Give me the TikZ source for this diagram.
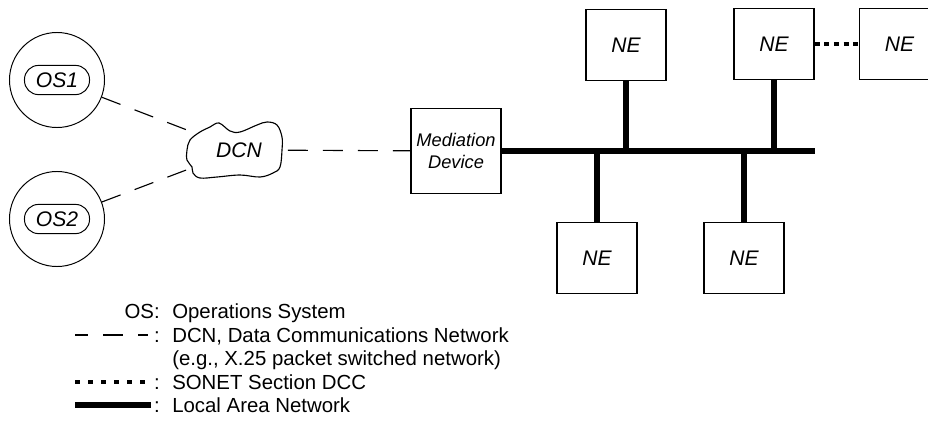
\documentclass[tikz,border=0pt]{standalone}
\usepackage{fontspec}
\setmainfont{Liberation Sans}
\usepackage{tikz}
\usetikzlibrary{positioning,shapes.geometric}

\begin{document}
\begin{tikzpicture}[x=0.025cm, y=-0.025cm, node distance=1.1cm]
  \tikzstyle{lbl}=[font=\fontsize{15}{17}\selectfont\itshape]
  \tikzstyle{oscirc}=[circle, draw, line width=0.7pt, minimum size=2.375cm, inner sep=0pt]
  \tikzstyle{osbox}=[lbl, draw, line width=0.7pt, rounded corners=0.35cm, minimum width=1.625cm, minimum height=0.73cm, inner sep=0pt]
  \tikzstyle{nebox}=[lbl, draw, line width=1.1pt, minimum width=2cm, minimum height=1.775cm, inner sep=0pt]
  \tikzstyle{mdbox}=[draw, line width=1.1pt, minimum width=2.25cm, minimum height=2.125cm, inner sep=0pt, align=center, font=\fontsize{13}{15}\selectfont\itshape]
  \tikzstyle{dcnlink}=[line width=0.8pt, dash pattern=on 0.5cm off 0.375cm]
  \tikzstyle{sonet}=[line width=2.8pt, dash pattern=on 0.125cm off 0.115cm]
  \tikzstyle{lan}=[line width=4.3pt]
  \tikzstyle{legtext}=[font=\fontsize{14.5}{17}\selectfont, inner sep=0pt]

  \useasboundingbox (0,0) rectangle (928,429);
  \clip (0,0) rectangle (928,429);

  % operations systems and the DCN cloud
  \node[oscirc] (os1) at (57,80) {};
  \node[osbox] (os1lbl) at (os1) {OS1};
  \node[oscirc] (os2) at (57,219) {};
  \node[osbox] (os2lbl) at (os2) {OS2};
  \node[lbl, ellipse, minimum width=2.425cm, minimum height=1.4cm, inner sep=0pt] (dcn) at (239,150) {DCN};
  \draw[line width=0.8pt, shift={(dcn.center)}] plot[smooth cycle, tension=0.6] coordinates {
    (-20,-27) (-9,-19) (1,-18) (18,-25) (28,-28) (38,-25) (43,-13) (43,0) (41,17) (34,23)
    (21,27) (1,25) (-22,27) (-39,28) (-46,23) (-47,17) (-52,10) (-52,0) (-49,-10) (-39,-18) (-29,-23)};

  % mediation device and network elements
  \node[mdbox] (md) at (456,151) {Mediation\\Device};
  \node[nebox] (ne1) at (626,45) {NE};
  \node[nebox] (ne2) at (774,44) {NE};
  \node[nebox, right=of ne2] (ne3) {NE};
  \node[nebox] (ne4) at (597,258) {NE};
  \node[nebox] (ne5) at (744,258) {NE};

  \draw[dcnlink] (os1) -- (dcn);
  \draw[dcnlink] (os2) -- (dcn);
  \draw[dcnlink] (dcn) -- (md);
  \coordinate (busend) at (ne2.east |- md.east);
  \draw[lan] (md.east) -- (busend);
  \foreach \n in {ne1,ne2,ne4,ne5}
    \draw[lan] (\n) -- (\n |- md.east);
  \draw[sonet] (ne2) -- (ne3);

  % legend
  \node[legtext, anchor=base east] (key1) at (160,318) {OS:};
  \node[legtext, anchor=base west] (leg1) at (172,318) {Operations System};
  \node[legtext, anchor=base east] (key2) at (160,342) {:};
  \node[legtext, anchor=base west] (leg2) at (172,342) {DCN, Data Communications Network};
  \node[legtext, anchor=base west] (leg2b) at (172,365) {(e.g., X.25 packet switched network)};
  \node[legtext, anchor=base east] (key3) at (160,389) {:};
  \node[legtext, anchor=base west] (leg3) at (172,389) {SONET Section DCC};
  \node[legtext, anchor=base east] (key4) at (160,412) {:};
  \node[legtext, anchor=base west] (leg4) at (172,412) {Local Area Network};

  \coordinate (s2) at (75,335);
  \coordinate (s3) at (75,382);
  \coordinate (s4) at (75,405);
  \draw[dcnlink, dash phase=0.175cm] (s2) -- ([xshift=-0.15cm]s2 -| key2.west);
  \draw[sonet, line width=2.2pt, dash pattern=on 0.125cm off 0.2cm] (s3) -- ([xshift=-0.1cm]s3 -| key3.west);
  \draw[lan] (s4) -- ([xshift=-0.06cm]s4 -| key4.west);
\end{tikzpicture}
\end{document}
